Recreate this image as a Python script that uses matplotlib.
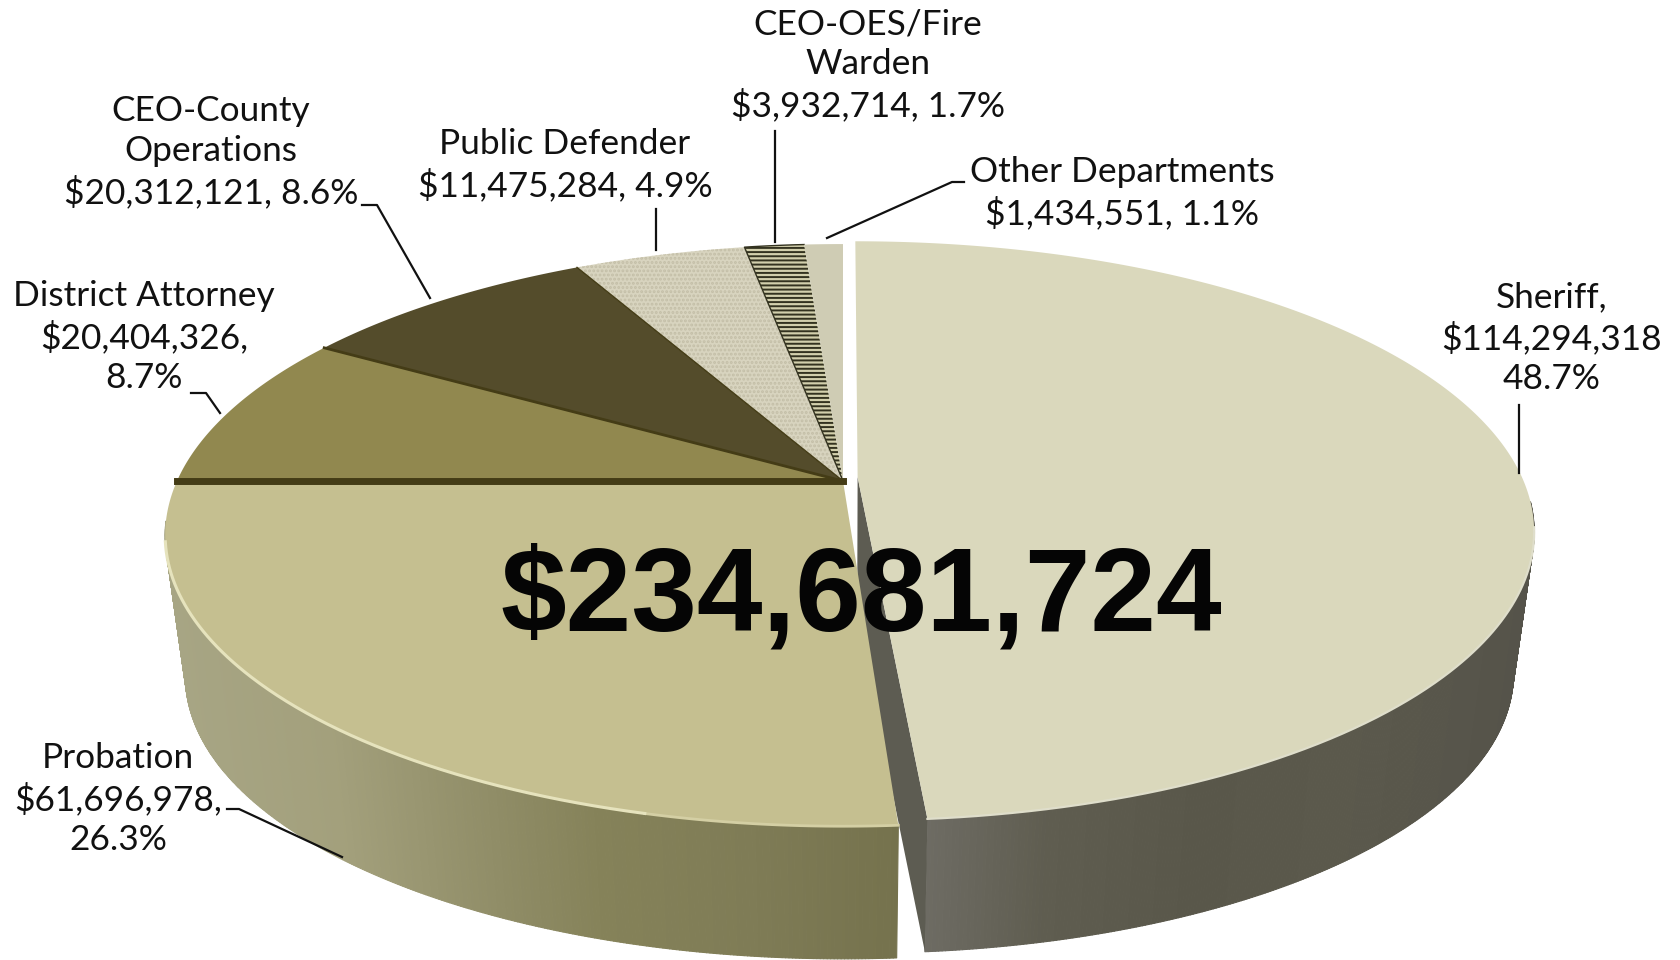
import numpy as np
import matplotlib
matplotlib.use('Agg')
import matplotlib.pyplot as plt
from matplotlib.collections import PolyCollection
from matplotlib.colors import to_rgb

plt.rcParams['hatch.linewidth'] = 1.4

# data
departments = ['Sheriff', 'Probation', 'District Attorney', 'CEO-County Operations',
               'Public Defender', 'CEO-OES/Fire Warden', 'Other Departments']
percents = [48.7, 26.3, 8.7, 8.6, 4.9, 1.7, 1.1]
labels = ['Sheriff,\n$114,294,318\n48.7%',
          'Probation\n$61,696,978,\n26.3%',
          'District Attorney\n$20,404,326,\n8.7%',
          'CEO-County\nOperations\n$20,312,121, 8.6%',
          'Public Defender\n$11,475,284, 4.9%',
          'CEO-OES/Fire\nWarden\n$3,932,714, 1.7%',
          'Other Departments\n$1,434,551, 1.1%']
total_label = '$234,681,724'
top_colors = ['#dad8bc', '#c5bf90', '#91884f', '#544c2b', '#d8d4bf', '#d2cfac', '#cfccb4']

# label centres and leader lines, in pixels
label_xy = [(1552, 338), (118, 799), (144, 337), (211, 152), (565, 165), (868, 65), (1122, 193)]
leaders = [[(1519, 405), (1519, 473)],
           [(227, 809), (239, 809), (342, 857)],
           [(191, 393), (206, 393), (220, 413)],
           [(362, 205), (377, 205), (430, 298)],
           [(656, 209), (656, 250)],
           [(775, 131), (775, 242)],
           [(964, 182), (952, 182), (827, 238)]]

# perspective of the pie disc
cx, cy = 843, 481
a, b, k = 666, 281, 0.186
wall_drop, wall_scale = 143, 0.97


def project(u, v, bottom=False):
    w = 1 + k * v
    x = cx + a * u / w
    y = cy - b * v / w
    if bottom:
        x = cx + (x - cx) * wall_scale
        y = cy + wall_drop + (y - cy) * wall_scale
    return x, y


def arc(t0, t1, off=(0, 0), bottom=False):
    t = np.radians(np.linspace(t0, t1, max(int(abs(t1 - t0) * 4), 2)))
    return project(np.sin(t) + off[0], np.cos(t) + off[1], bottom)


def wedge(t0, t1, off=(0, 0), bottom=False):
    x, y = arc(t0, t1, off, bottom)
    xc, yc = project(np.array([off[0]]), np.array([off[1]]), bottom)
    return np.r_[xc, x], np.r_[yc, y]


def strip_colors(xs, stops):
    sx = [s[0] for s in stops]
    rgb = np.array([to_rgb(s[1]) for s in stops])
    return np.c_[[np.interp(xs, sx, rgb[:, i]) for i in range(3)]].T


fig = plt.figure(figsize=(16.81, 9.6), dpi=100)
ax = fig.add_axes([0, 0, 1, 1])
ax.set_xlim(0, 1681)
ax.set_ylim(960, 0)
ax.axis('off')

edges = np.r_[0, np.cumsum(percents)] * 3.6
sheriff_off = (0.022, 0.014)
front_gap = 0.8

sheriff_wall = [(925, '#6e6c64'), (1050, '#5f5d50'), (1200, '#59574a'), (1350, '#5b594c'), (1530, '#55534a')]
probation_wall = [(170, '#a7a584'), (330, '#a3a07c'), (500, '#8f8c66'), (600, '#858259'), (750, '#7f7c56'), (900, '#75724d')]


def wall(t0, t1, off, stops, z):
    xt, yt = arc(t0, t1, off)
    xb, yb = arc(t0, t1, off, bottom=True)
    polys = [[(xt[i], yt[i]), (xt[i + 1], yt[i + 1]), (xb[i + 1], yb[i + 1]), (xb[i], yb[i])]
             for i in range(len(xt) - 1)]
    ax.add_collection(PolyCollection(polys, facecolors=strip_colors(xt[:-1], stops), edgecolors='face',
                                     linewidths=0.8, zorder=z))


def inner_face(t, off, color, z):
    xt, yt = project(np.array([np.sin(np.radians(t)) + off[0], off[0]]),
                     np.array([np.cos(np.radians(t)) + off[1], off[1]]))
    xb, yb = project(np.array([off[0], np.sin(np.radians(t)) + off[0]]),
                     np.array([off[1], np.cos(np.radians(t)) + off[1]]), bottom=True)
    ax.fill(np.r_[xt, xb], np.r_[yt, yb], color=color, lw=0, zorder=z)


# sheriff, drawn first because it sits behind the left group at the front
wall(95, edges[1], sheriff_off, sheriff_wall, 1)
inner_face(edges[1], sheriff_off, '#5d5c52', 2)
x, y = wedge(edges[0], edges[1], sheriff_off)
ax.fill(x, y, color=top_colors[0], lw=0, zorder=3)

# rest of the pie
wall(edges[1] + front_gap, 262, (0, 0), probation_wall, 4)
for i in range(1, 7):
    start = edges[i] + front_gap if i == 1 else edges[i]
    x, y = wedge(start, edges[i + 1])
    ax.fill(x, y, color=top_colors[i], lw=0, zorder=5)
    if i == 4:
        ax.fill(x, y, facecolor='none', edgecolor='#c3bea7', hatch='....', lw=0, zorder=5)
    if i == 5:
        ax.fill(x, y, facecolor='none', edgecolor='#33321f', hatch='----', lw=0, zorder=5)
        ax.plot(x, y, color='#33321f', lw=1.0, zorder=5)

# dark separators between the slices
for i, lw in [(2, 5), (3, 2), (4, 1)]:
    x, y = wedge(edges[i], edges[i] + 0.01)
    ax.plot(x[:2], y[:2], color='#443c16', lw=lw, zorder=6)

# pale rim along the front of the top faces
x, y = arc(edges[1] + front_gap, edges[1] + front_gap + 18)
ax.plot(x, y, color='#d4cfa4', lw=2, zorder=6)
x, y = arc(edges[1] + front_gap + 18, 258)
ax.plot(x, y, color='#e6e3bd', lw=2.2, zorder=6)
x, y = arc(100, edges[1], sheriff_off)
ax.plot(x, y, color='#dfdecb', lw=1.6, zorder=6)

ax.text(803 * 1.072, 560 * 1.072, total_label, family='Liberation Sans', weight='bold', fontsize=85,
        color='#050505', ha='center', va='center', zorder=9)

for text, (tx, ty) in zip(labels, label_xy):
    ax.text(tx, ty, text, family='Lato', fontsize=25.4, color='#111111', ha='center', va='center',
            linespacing=1.3, zorder=9)

for line in leaders:
    xs, ys = zip(*line)
    ax.plot(xs, ys, color='#111111', lw=1.6, zorder=8)

fig.savefig('out.png', dpi=100, facecolor='white')
